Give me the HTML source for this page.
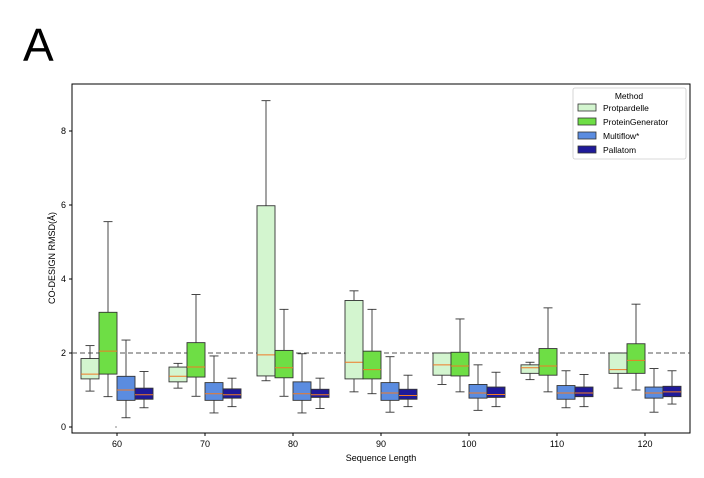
<!DOCTYPE html>
<html><head><meta charset="utf-8"><style>
html,body{margin:0;padding:0;background:#fff;width:704px;height:478px;overflow:hidden}
svg{font-family:"Liberation Sans","DejaVu Sans",sans-serif}
</style></head><body>
<svg id="s" width="704" height="478" xmlns="http://www.w3.org/2000/svg">
<text x="23" y="61" font-size="46" fill="#000">A</text>
<rect x="72" y="84" width="618" height="349" fill="none" stroke="#000" stroke-width="1"/>
<line x1="72" x2="690" y1="353" y2="353" stroke="#555" stroke-width="1" stroke-dasharray="5,3"/>
<text x="381" y="461" font-size="9" text-anchor="middle">Sequence Length</text>
<text transform="translate(55,258) rotate(-90)" font-size="9" text-anchor="middle">CO-DESIGN RMSD(Å)</text>
<g id="g"></g>
<rect x="573" y="88" width="113" height="71" fill="#fff" stroke="#ccc" stroke-width="0.8" rx="2"/>
<text x="629" y="99" font-size="8.5" text-anchor="middle">Method</text>
<rect x="578" y="104" width="18" height="7" fill="#d3f5cf" stroke="#333" stroke-width="0.8"/>
<text x="603" y="111" font-size="8.5">Protpardelle</text>
<rect x="578" y="118" width="18" height="7" fill="#6ede45" stroke="#333" stroke-width="0.8"/>
<text x="603" y="125" font-size="8.5">ProteinGenerator</text>
<rect x="578" y="132" width="18" height="7" fill="#5b8ce0" stroke="#333" stroke-width="0.8"/>
<text x="603" y="139" font-size="8.5">Multiflow*</text>
<rect x="578" y="146" width="18" height="7" fill="#1f1a99" stroke="#333" stroke-width="0.8"/>
<text x="603" y="153" font-size="8.5">Pallatom</text>
<circle cx="116" cy="427" r="0.6" fill="#333"/>
</svg>
<script>
var g=document.getElementById('g'),NS='http://www.w3.org/2000/svg';
function el(t,a,txt){var e=document.createElementNS(NS,t);for(var k in a)e.setAttribute(k,a[k]);if(txt!=null)e.textContent=txt;g.appendChild(e);return e;}
function Y(v){return 427-37*v;}
[0,2,4,6,8].forEach(function(v){el('line',{x1:69,x2:72,y1:Y(v),y2:Y(v),stroke:'#000'});el('text',{x:66,y:Y(v)+3,'font-size':9,'text-anchor':'end'},v);});
var cols=['#d3f5cf','#6ede45','#5b8ce0','#1f1a99'];
var D=[
[[1.3,1.85,1.43,0.97,2.2],[1.43,3.1,2.05,0.82,5.55],[0.72,1.37,1.0,0.25,2.35],[0.75,1.05,0.87,0.52,1.5]],
[[1.22,1.62,1.37,1.05,1.72],[1.35,2.28,1.62,0.83,3.58],[0.72,1.2,0.9,0.38,1.92],[0.78,1.03,0.87,0.55,1.32]],
[[1.38,5.98,1.95,1.25,8.82],[1.33,2.07,1.6,0.83,3.18],[0.72,1.22,0.9,0.38,1.98],[0.8,1.02,0.87,0.5,1.32]],
[[1.3,3.42,1.75,0.95,3.68],[1.3,2.05,1.55,0.9,3.18],[0.72,1.2,0.92,0.4,1.9],[0.75,1.02,0.85,0.55,1.4]],
[[1.4,2.0,1.68,1.15,2.0],[1.38,2.02,1.65,0.95,2.92],[0.78,1.15,0.92,0.45,1.68],[0.8,1.08,0.88,0.55,1.48]],
[[1.45,1.68,1.6,1.28,1.75],[1.4,2.12,1.65,0.95,3.22],[0.75,1.12,0.92,0.52,1.52],[0.82,1.08,0.92,0.55,1.42]],
[[1.45,2.0,1.55,1.05,2.0],[1.45,2.25,1.8,1.0,3.32],[0.78,1.08,0.92,0.4,1.58],[0.82,1.1,0.95,0.62,1.52]]];
D.forEach(function(grp,i){
 var c=117+88*i;
 el('line',{x1:c,x2:c,y1:433,y2:436,stroke:'#000'});
 el('text',{x:c,y:447,'font-size':9,'text-anchor':'middle'},60+10*i);
 grp.forEach(function(b,j){
  var x0=c-36+18*j,xc=x0+9;
  el('line',{x1:xc,x2:xc,y1:Y(b[1]),y2:Y(b[4]),stroke:'#333','stroke-width':0.9});
  el('line',{x1:xc,x2:xc,y1:Y(b[0]),y2:Y(b[3]),stroke:'#333','stroke-width':0.9});
  el('line',{x1:xc-4.5,x2:xc+4.5,y1:Y(b[4]),y2:Y(b[4]),stroke:'#333','stroke-width':0.9});
  el('line',{x1:xc-4.5,x2:xc+4.5,y1:Y(b[3]),y2:Y(b[3]),stroke:'#333','stroke-width':0.9});
  el('rect',{x:x0,y:Y(b[1]),width:18,height:Y(b[0])-Y(b[1]),fill:cols[j],stroke:'#333','stroke-width':0.9});
  el('line',{x1:x0,x2:x0+18,y1:Y(b[2]),y2:Y(b[2]),stroke:'#f07a26','stroke-width':1});
 });
});
</script>
</body></html>
